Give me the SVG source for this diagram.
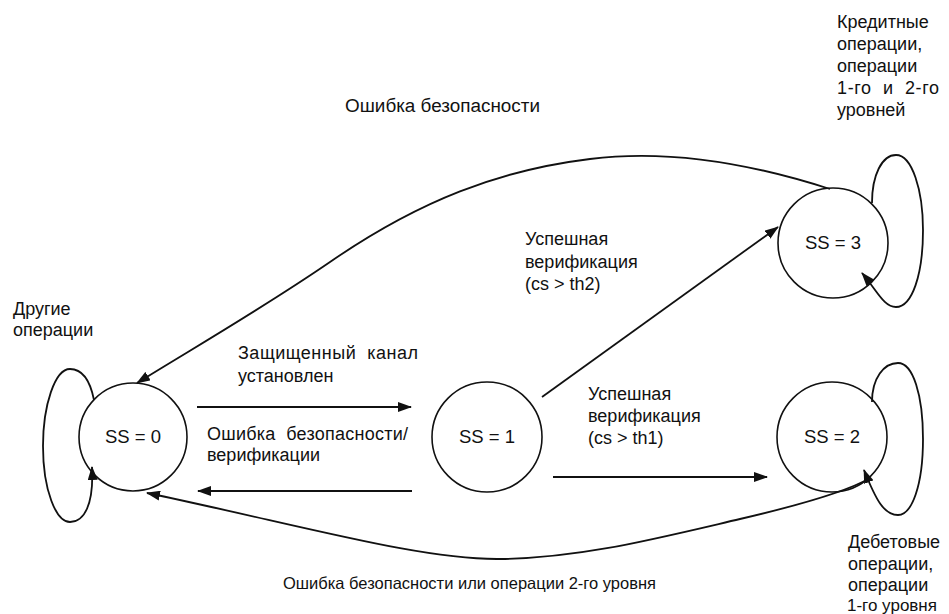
<svg xmlns="http://www.w3.org/2000/svg" width="949" height="614" viewBox="0 0 949 614">
<style>
text{font-family:"Liberation Sans",Arial,sans-serif;font-size:18px;fill:#111}
.st{fill:#fff;stroke:#111;stroke-width:1.6}
.c{fill:none;stroke:#111;stroke-width:1.8}
.lbl{text-anchor:middle;font-size:18.5px}
</style>
<defs>
<marker id="ah" markerWidth="14" markerHeight="10" refX="13" refY="5" orient="auto" markerUnits="userSpaceOnUse">
<path d="M0,0 L14,5 L0,10 Z" fill="#111"/>
</marker>
</defs>
<rect width="949" height="614" fill="#fff"/>
<g id="ss0"><circle class="st" cx="133" cy="437" r="54"/><text class="lbl" x="133" y="443">SS = 0</text></g>
<g id="ss1"><circle class="st" cx="487" cy="437" r="55"/><text class="lbl" x="487" y="443">SS = 1</text></g>
<g id="ss2"><circle class="st" cx="832" cy="437" r="55"/><text class="lbl" x="832" y="443">SS = 2</text></g>
<g id="ss3"><circle class="st" cx="833" cy="243" r="55"/><text class="lbl" x="833" y="249">SS = 3</text></g>
<g id="connectors">
<path class="c" d="M94 400 C90 380 82 369 70 369 C55 369 43 405 43 446 C43 490 56 522 70 522 C84 522 94 505 92 467" marker-end="url(#ah)"/>
<path class="c" d="M872 203 C872 175 882 155 896 155 C912 155 923 190 923 230 C923 275 912 307 896 307 C884 307 878 292 862 273" marker-end="url(#ah)"/>
<path class="c" d="M872 402 C872 378 884 363 898 363 C913 363 923 395 923 439 C923 485 912 515 898 515 C884 515 876 500 864 470" marker-end="url(#ah)"/>
<line class="c" x1="197" y1="407" x2="411" y2="407" marker-end="url(#ah)"/>
<line class="c" x1="412" y1="491" x2="198" y2="491" marker-end="url(#ah)"/>
<line class="c" x1="553" y1="477" x2="767" y2="477" marker-end="url(#ah)"/>
<line class="c" x1="542" y1="397" x2="778" y2="227" marker-end="url(#ah)"/>
<path class="c" d="M830 189 C740 160 660 150 590 159 C500 170 420 200 330 262 C260 310 190 350 137 383" marker-end="url(#ah)"/>
<path class="c" d="M870 478 C850 490 800 505 740 519 C650 540 580 558 500 559 C420 560 300 525 147 493" marker-end="url(#ah)"/>
</g>
<g id="labels">
<text x="345" y="112" textLength="195" lengthAdjust="spacingAndGlyphs">Ошибка безопасности</text>
<text x="837" y="28">Кредитные</text>
<text x="837" y="50">операции,</text>
<text x="837" y="72">операции</text>
<text x="837" y="94" xml:space="preserve" textLength="102">1-го  и  2-го</text>
<text x="837" y="116">уровней</text>
<text x="13" y="315">Другие</text>
<text x="13" y="336">операции</text>
<text x="238" y="359" xml:space="preserve" textLength="180">Защищенный  канал</text>
<text x="238" y="382">установлен</text>
<text x="207" y="440" xml:space="preserve" textLength="201">Ошибка  безопасности/</text>
<text x="207" y="461">верификации</text>
<text x="525" y="245">Успешная</text>
<text x="525" y="268">верификация</text>
<text x="525" y="290">(cs &gt; th2)</text>
<text x="588" y="400">Успешная</text>
<text x="588" y="422">верификация</text>
<text x="588" y="444">(cs &gt; th1)</text>
<text x="848" y="548">Дебетовые</text>
<text x="848" y="570">операции,</text>
<text x="848" y="591">операции</text>
<text x="847" y="611" style="font-size:17px">1-го уровня</text>
<text x="283" y="589" style="font-size:16.5px" textLength="373" lengthAdjust="spacingAndGlyphs">Ошибка безопасности или операции 2-го уровня</text>
</g>
</svg>
